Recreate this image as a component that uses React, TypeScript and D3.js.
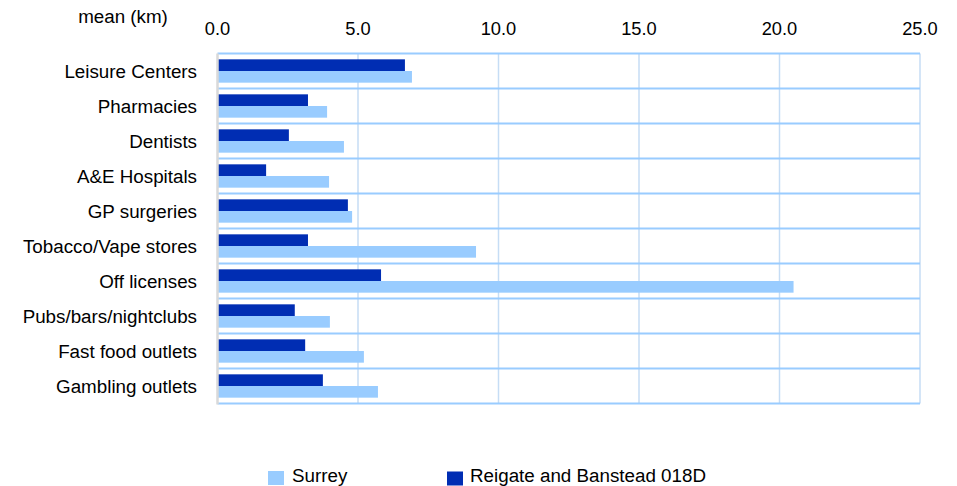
import { FC } from 'react';
import * as d3 from 'd3';

const categories = [
  'Leisure Centers',
  'Pharmacies',
  'Dentists',
  'A&E Hospitals',
  'GP surgeries',
  'Tobacco/Vape stores',
  'Off licenses',
  'Pubs/bars/nightclubs',
  'Fast food outlets',
  'Gambling outlets',
];
const reigate = [6.67, 3.22, 2.54, 1.73, 4.64, 3.22, 5.82, 2.75, 3.12, 3.75];
const surrey = [6.92, 3.9, 4.5, 3.97, 4.79, 9.2, 20.5, 4.0, 5.21, 5.71];
const ticks = [0, 5, 10, 15, 20, 25];

const W = 957;
const H = 486;
const DARK = '#002db3';
const LIGHT = '#99ccff';
const FONT = '"Liberation Sans", Arial, sans-serif';

const App: FC = () => {
  const x = d3.scaleLinear().domain([0, 25]).range([217.5, 920]);
  const y = d3.scaleBand<string>().domain(categories).range([53.5, 403.5]);
  const inner = d3
    .scaleBand<string>()
    .domain(['reigate', 'surrey'])
    .range([0, y.bandwidth()])
    .paddingOuter(0.5)
    .paddingInner(0);

  return (
    <svg
      width={W}
      height={H}
      style={{ position: 'absolute', left: 0, top: 0 }}
      fontFamily={FONT}
      fontSize={18.8}
    >
      <rect width={W} height={H} fill="#fff" />
      {/* vertical grid */}
      {ticks.slice(1).map((t) => (
        <line key={t} x1={x(t)} x2={x(t)} y1={y.range()[0]} y2={y.range()[1]} stroke="#c6ddf5" strokeWidth={1.5} />
      ))}
      {/* horizontal row lines */}
      {[...categories.map((c) => y(c)!), y.range()[1]].map((yy, i) => (
        <line key={i} x1={x(0)} x2={x(25)} y1={yy} y2={yy} stroke={LIGHT} strokeWidth={2} />
      ))}
      {categories.map((c, i) => (
        <g key={c}>
          <rect x={x(0)} y={y(c)! + inner('reigate')!} width={x(reigate[i]) - x(0)} height={inner.bandwidth()} fill={DARK} />
          <rect x={x(0)} y={y(c)! + inner('surrey')!} width={x(surrey[i]) - x(0)} height={inner.bandwidth()} fill={LIGHT} />
          <text x={197} y={y(c)! + y.bandwidth() / 2} dy="0.35em" textAnchor="end" fill="#000">
            {c}
          </text>
        </g>
      ))}
      <line x1={x(0)} x2={x(0)} y1={y.range()[0]} y2={y.range()[1] + 1} stroke="#d9d9d9" strokeWidth={2.5} />
      {ticks.map((t) => (
        <text key={t} x={x(t)} y={35} textAnchor="middle" fontSize={18.3} fill="#000">
          {d3.format('.1f')(t)}
        </text>
      ))}
      <text x={123} y={23} textAnchor="middle" fill="#000">
        mean (km)
      </text>
      {/* legend */}
      <rect x={268} y={471} width={16} height={14} fill={LIGHT} />
      <text x={292} y={482} fill="#000">Surrey</text>
      <rect x={447} y={471.5} width={16} height={14} fill={DARK} />
      <text x={470} y={482} fill="#000">Reigate and Banstead 018D</text>
    </svg>
  );
};

export default App;
